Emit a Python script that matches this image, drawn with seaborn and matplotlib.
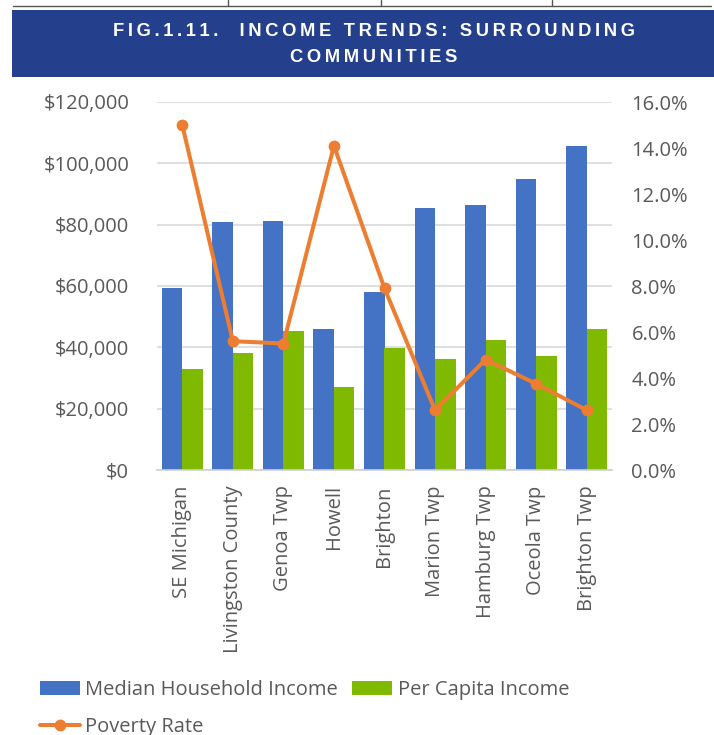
import numpy as np
import pandas as pd
import matplotlib
matplotlib.use("Agg")
import matplotlib.pyplot as plt
import seaborn as sns
from matplotlib.patches import Rectangle, Patch
from matplotlib.lines import Line2D
from matplotlib.ticker import FuncFormatter, FixedLocator

communities = ["SE Michigan", "Livingston County", "Genoa Twp", "Howell", "Brighton",
               "Marion Twp", "Hamburg Twp", "Oceola Twp", "Brighton Twp"]
median_household_income = [59500, 80800, 81300, 46000, 57900, 85400, 86500, 94800, 105600]
per_capita_income = [33000, 38100, 45400, 27200, 39800, 36100, 42400, 37200, 46000]
poverty_rate = [15.0, 5.6, 5.5, 14.1, 7.9, 2.6, 4.8, 3.75, 2.6]

series_names = ["Median Household Income", "Per Capita Income"]
title_line1 = "FIG.1.11.  INCOME TRENDS: SURROUNDING"
title_line2 = "COMMUNITIES"

BLUE = "#4472C4"
GREEN = "#7FBA00"
ORANGE = "#ED7D31"
TXT = "#595959"
FS = 14.5

sns.set_theme(style="white")
plt.rcParams['font.family'] = ['Open Sans', 'DejaVu Sans']

df = pd.DataFrame({
    "community": communities * 2,
    "income": median_household_income + per_capita_income,
    "series": [series_names[0]] * len(communities) + [series_names[1]] * len(communities),
})

fig = plt.figure(figsize=(7.14, 7.35), dpi=100)
W, H = 714, 735
ax = fig.add_axes([157 / W, 1 - 470 / H, (612 - 157) / W, (470 - 102) / H])

sns.barplot(data=df, x="community", y="income", hue="series", order=communities,
            hue_order=series_names, palette=[BLUE, GREEN], saturation=1, width=0.81, gap=0,
            linewidth=0, ax=ax, legend=False, zorder=2)

ax.set_ylim(0, 120000)
ax.set_xlim(-0.5, len(communities) - 0.5)
ax.yaxis.set_major_locator(FixedLocator(np.arange(0, 120001, 20000)))
ax.yaxis.set_major_formatter(FuncFormatter(lambda v, p: "${:,.0f}".format(v)))
ax.grid(axis="y", color="#d9d9d9", linewidth=1.2, zorder=0)
ax.set_axisbelow(True)
ax.set_xlabel("")
ax.set_ylabel("")
for s in ["left", "right", "top"]:
    ax.spines[s].set_visible(False)
ax.spines["bottom"].set_color("#d0d0d0")
ax.spines["bottom"].set_linewidth(1.2)
ax.tick_params(axis="y", length=0, pad=20, labelsize=FS, labelcolor=TXT)
ax.tick_params(axis="x", which="major", length=0, pad=11, labelsize=FS, labelcolor=TXT)
ax.set_xticks(np.arange(len(communities)))
ax.set_xticklabels(communities, rotation=90, va="top", ha="center")
ax.set_xticks(np.arange(-0.5, len(communities), 1.0), minor=True)
ax.tick_params(axis="x", which="minor", length=6, color="#d0d0d0", width=1.2, direction="out")

ax2 = ax.twinx()
sns.lineplot(x=np.arange(len(communities)), y=poverty_rate, ax=ax2, color=ORANGE,
             linewidth=2.9, marker="o", markersize=8.5, markeredgewidth=0, zorder=3)
ax2.set_ylim(0, 16)
ax2.yaxis.set_major_locator(FixedLocator(np.arange(0, 16.01, 2)))
ax2.yaxis.set_major_formatter(FuncFormatter(lambda v, p: "{:.1f}%".format(v)))
ax2.tick_params(axis="y", length=0, pad=14, labelsize=FS, labelcolor=TXT)
ax2.grid(False)
for s in ["left", "right", "top", "bottom"]:
    ax2.spines[s].set_visible(False)
ax2.set_ylabel("")

# Title banner
fig.patches.append(Rectangle((12 / W, 1 - 77 / H), (W - 12) / W, 67 / H,
                             transform=fig.transFigure, facecolor="#243F8C",
                             edgecolor="none", zorder=0))
def spaced(s):
    return "\u2009".join(s)
tkw = dict(ha="center", va="center", color="white", fontsize=13.2, fontweight="bold",
           family=["Liberation Sans", "DejaVu Sans"])
fig.text(374 / W, 1 - 31 / H, spaced(title_line1), **tkw)
fig.text(374 / W, 1 - 58 / H, spaced(title_line2), **tkw)
# table border remnant at top
fig.add_artist(Line2D([13 / W, 711 / W], [1 - 6 / H, 1 - 6 / H], transform=fig.transFigure,
                      color="#555555", linewidth=1))
for xv in [228, 381, 552]:
    fig.add_artist(Line2D([xv / W, xv / W], [1 - 6 / H, 1.0], transform=fig.transFigure,
                          color="#555555", linewidth=1))

# Legend
handles = [Patch(facecolor=BLUE, edgecolor="none", label=series_names[0]),
           Line2D([], [], color=ORANGE, linewidth=2.9, marker="o", markersize=8.5,
                  markeredgewidth=0, label="Poverty Rate"),
           Patch(facecolor=GREEN, edgecolor="none", label=series_names[1])]
leg = fig.legend(handles=handles, ncol=2, loc="upper left",
                 bbox_to_anchor=(32 / W, 1 - 672 / H), frameon=False, fontsize=FS,
                 handlelength=2.0, handletextpad=0.25, columnspacing=0.7,
                 labelspacing=0.85, borderaxespad=0)
for t in leg.get_texts():
    t.set_color(TXT)

fig.savefig("out.png", dpi=100, facecolor="white")
